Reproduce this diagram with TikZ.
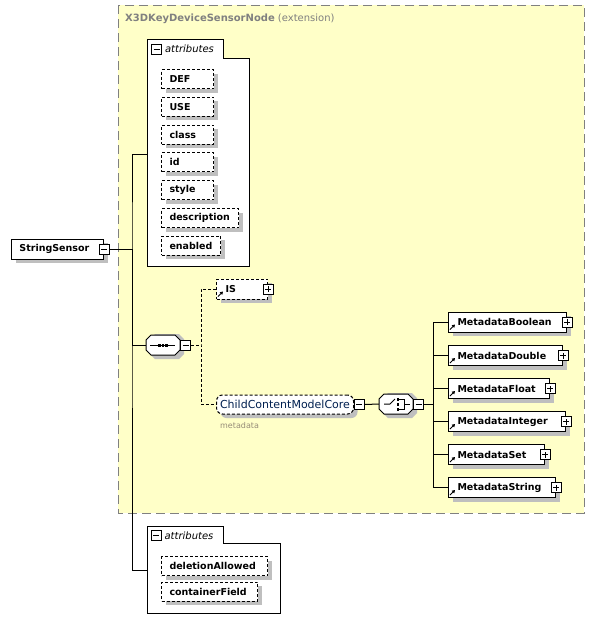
\documentclass[tikz,border=0pt]{standalone}
\usepackage{fontspec}
\setmainfont{DejaVu Sans}
\usetikzlibrary{shadows}
\usetikzlibrary{arrows.meta}
\definecolor{extyellow}{RGB}{255,255,200}
\definecolor{titlegray}{RGB}{128,128,128}
\definecolor{navy}{RGB}{0,32,80}
\definecolor{notegray}{RGB}{150,140,120}
\hyphenpenalty=10000

\begin{document}
\begin{tikzpicture}[x=1pt, y=-1pt, >={Triangle[length=3pt,width=3.5pt]},
  shadowed/.style={drop shadow={shadow xshift=4pt, shadow yshift=-4pt, fill=black!25, opacity=1}},
  elem/.style={draw, fill=white, shadowed, anchor=west, minimum height=20pt, inner xsep=8pt, inner ysep=0pt,
    text width=#1, align=left, line width=1pt, font=\fontsize{9.5}{11}\selectfont\bfseries},
  refelem/.style={elem=#1, inner xsep=9pt},
  attr/.style={elem=#1, dash pattern=on 3pt off 2pt, minimum height=19pt},
  octo/.style={minimum width=34pt, minimum height=20pt, inner sep=0pt},
  minusbox/.style={draw, fill=white, minimum size=10pt, inner sep=0pt, line width=0.8pt,
    path picture={\draw[line width=1pt] ([xshift=2pt]path picture bounding box.west) -- ([xshift=-2pt]path picture bounding box.east);}},
  plusbox/.style={minusbox,
    path picture={\draw[line width=1pt] ([xshift=2pt]path picture bounding box.west) -- ([xshift=-2pt]path picture bounding box.east)
      ([yshift=2pt]path picture bounding box.south) -- ([yshift=-2pt]path picture bounding box.north);}},
  conn/.style={line width=1pt},
  dconn/.style={conn, dash pattern=on 3pt off 2pt},
  grpbox/.style={draw, fill=white, line width=1pt},
  grptitle/.style={anchor=west, inner sep=3pt, font=\fontsize{10}{12}\selectfont\itshape},
  extbox/.style={draw=titlegray, fill=extyellow, line width=1pt, dash pattern=on 9pt off 5pt},
  refarr/.style={->, line width=1pt}]
  \path[use as bounding box] (0, 0) rectangle (595, 633);

  % extension
  \draw[extbox] (118, 5) rectangle (584, 513);
  \node[anchor=west, inner sep=0pt, text=titlegray, font=\fontsize{10}{12}\selectfont] (exttitle) at (125, 19)
    {\textbf{X3DKeyDeviceSensorNode} (extension)};

  % attributes (top)
  \draw[grpbox] (147, 266) |- (223, 39) |- (249, 58) |- cycle;
  \node[minusbox] (att1min) at (156.5, 49) {};
  \node[grptitle] (att1) at (att1min.east) {attributes};
  \coordinate (grpA) at (147, 154);
  \node[attr=36pt] (aDEF) at (161, 79) {DEF};
  \node[attr=36pt] (aUSE) at (161, 106.8) {USE};
  \node[attr=36pt] (aclass) at (161, 134.6) {class};
  \node[attr=36pt] (aid) at (161, 162.4) {id};
  \node[attr=36pt] (astyle) at (161, 190.2) {style};
  \node[attr=61pt] (adesc) at (161, 218) {description};
  \node[attr=43pt] (aenabled) at (161, 245.8) {enabled};

  % attributes (bottom)
  \draw[grpbox] (147, 613) |- (223, 526) |- (280, 543) |- cycle;
  \node[minusbox] (att2min) at (156, 535.5) {};
  \node[grptitle] (att2) at (att2min.east) {attributes};
  \coordinate (grpB) at (147, 570);
  \node[attr=90pt] (adel) at (161, 566) {deletionAllowed};
  \node[attr=80pt] (acont) at (161, 591.5) {containerField};

  % StringSensor
  \node[elem=76pt] (ss) at (11, 249) {StringSensor};
  \node[minusbox] (ssmin) at (ss.east) {};
  \coordinate (fork) at (132, 249);

  % sequence
  \node[octo] (seq) at (163, 345) {};
  \begin{scope}[shift={(seq.center)}]
    \fill[black!25] (-13, -6) -- (-8, -11) -- (16, -11) -- (21, -6) -- (21, 9) -- (16, 14) -- (-8, 14) -- (-13, 9) -- cycle;
    \draw[fill=white, line width=1pt] (-17, -5) -- (-12, -10) -- (12, -10) -- (17, -5) -- (17, 5) -- (12, 10) -- (-12, 10) -- (-17, 5) -- cycle;
    \draw[line width=1pt] (-13, 0) -- (12, 0);
    \fill (-4.6, -1.5) rectangle +(2.6, 3);
    \fill (-1.3, -1.5) rectangle +(2.6, 3);
    \fill (2, -1.5) rectangle +(2.6, 3);
  \end{scope}
  \node[minusbox, anchor=west] (seqmin) at (seq.east) {};
  \coordinate (fork2) at (201, 345);

  % IS
  \node[refelem=33pt, dash pattern=on 3pt off 2pt] (IS) at (216, 289) {IS};

  % ChildContentModelCore
  \node[draw, fill=white, shadowed, rounded corners=6pt, dash pattern=on 3pt off 2pt, line width=1pt,
    anchor=west, minimum width=137pt, minimum height=19pt, inner sep=3pt, text=navy,
    font=\fontsize{11}{13}\selectfont] (ccmc) at (216, 404.5) {ChildContentModelCore};
  \node[minusbox, anchor=west] (ccmcmin) at (ccmc.east) {};
  \node[anchor=west, inner sep=0pt, text=notegray, font=\fontsize{8}{9}\selectfont] (ccmcnote) at (220, 426) {metadata};

  % choice
  \node[octo] (choice) at (396, 404) {};
  \begin{scope}[shift={(choice.center)}]
    \fill[black!25] (-13, -6) -- (-8, -11) -- (16, -11) -- (21, -6) -- (21, 9) -- (16, 14) -- (-8, 14) -- (-13, 9) -- cycle;
    \draw[fill=white, line width=1pt] (-17, -5) -- (-12, -10) -- (12, -10) -- (17, -5) -- (17, 5) -- (12, 10) -- (-12, 10) -- (-17, 5) -- cycle;
    \draw[line width=1pt] (-12, 0) -- (-6, 0) -- (-1, -5);
    \fill (0.5, -6.5) rectangle +(2.6, 3);
    \fill (0.5, -1.5) rectangle +(2.6, 3);
    \fill (0.5, 3.5) rectangle +(2.6, 3);
    \draw[line width=1pt] (3, -5) -- (8, -5) -- (8, 5) -- (3, 5) (8, 0) -- (14, 0);
  \end{scope}
  \node[minusbox, anchor=west] (chmin) at (choice.east) {};
  \coordinate (fork3) at (433, 404);

  % metadata
  \node[refelem=100pt] (mbool) at (448, 322) {MetadataBoolean};
  \node[refelem=96pt] (mdouble) at (448, 355.5) {MetadataDouble};
  \node[refelem=83pt] (mfloat) at (448, 388.5) {MetadataFloat};
  \node[refelem=99pt] (mint) at (448, 421.5) {MetadataInteger};
  \node[refelem=78pt] (mset) at (448, 454.5) {MetadataSet};
  \node[refelem=89pt] (mstring) at (448, 487.5) {MetadataString};

  \foreach \n in {IS, mbool, mdouble, mfloat, mint, mset, mstring} {
    \node[plusbox] (\n-plus) at (\n.east) {};
    \draw[refarr] ([shift={(2, -3)}]\n.south west) -- ++(5, -5);
  }

  % connectors
  \draw[conn] (ssmin.east) -- (fork);
  \draw[conn] (grpA) -| (fork) |- (grpB);
  \draw[conn] (fork) |- (seq.west);
  \draw[dconn] (seqmin.east) -- (fork2);
  \draw[dconn] (IS.west) -| (fork2) |- (ccmc.west);
  \draw[conn] (ccmcmin.east) -- (choice.west);
  \draw[conn] (chmin.east) -- (fork3);
  \draw[conn] (mbool.west) -| (fork3) |- (mstring.west);
  \draw[conn] (fork3) |- (mdouble.west);
  \draw[conn] (fork3) |- (mfloat.west);
  \draw[conn] (fork3) |- (mint.west);
  \draw[conn] (fork3) |- (mset.west);
\end{tikzpicture}
\end{document}
